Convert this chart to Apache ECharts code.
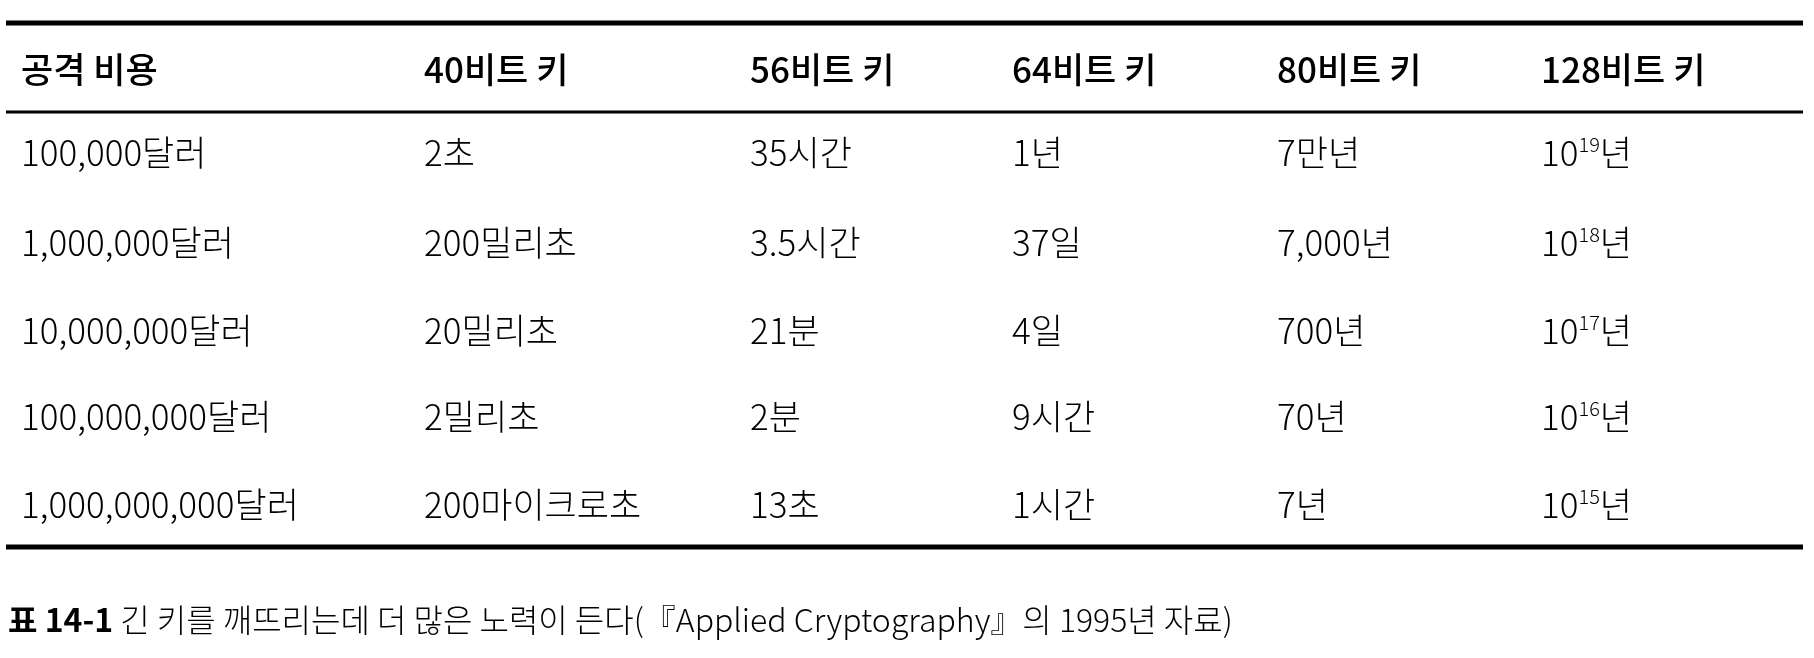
<!DOCTYPE html>
<html>
<head>
<meta charset="utf-8">
<script src="https://cdn.jsdelivr.net/npm/echarts@6/dist/echarts.min.js"></script>
<style>html,body{margin:0;padding:0;background:#fff}#chart{width:1814px;height:658px}</style>
</head>
<body>
<div id="chart"></div>
<script>
// table content
const headers = ['공격 비용', '40비트 키', '56비트 키', '64비트 키', '80비트 키', '128비트 키'];
const costs = ['100,000달러', '1,000,000달러', '10,000,000달러', '100,000,000달러', '1,000,000,000달러'];
const key40 = ['2초', '200밀리초', '20밀리초', '2밀리초', '200마이크로초'];
const key56 = ['35시간', '3.5시간', '21분', '2분', '13초'];
const key64 = ['1년', '37일', '4일', '9시간', '1시간'];
const key80 = ['7만년', '7,000년', '700년', '70년', '7년'];
const key128Exp = [19, 18, 17, 16, 15];
const captionLabel = '표 14-1';
const captionText = ' 긴 키를 깨뜨리는데 더 많은 노력이 든다(『Applied Cryptography』의 1995년 자료)';

const colX = [21, 424, 750, 1012, 1277, 1541];
const headerY = 70;
const rowY = [153, 243, 331, 417, 505];
const FONT = '"Noto Sans CJK KR", "Noto Sans", sans-serif';

const columns = [costs, key40, key56, key64, key80, key128Exp.map(e => '10{sup|' + e + '}년')];

const elements = [];
function hline(y, w) {
  elements.push({ type: 'line', shape: { x1: 6, y1: y, x2: 1803, y2: y }, style: { stroke: '#000', lineWidth: w } });
}
hline(23, 5);
hline(112, 3);
hline(547, 5);

headers.forEach((h, i) => {
  elements.push({ type: 'text', x: colX[i], y: headerY, style: {
    text: h, font: '500 35px ' + FONT, fill: '#000', verticalAlign: 'middle' } });
});

columns.forEach((col, i) => {
  col.forEach((v, r) => {
    elements.push({ type: 'text', x: colX[i], y: rowY[r], style: {
      text: v, fontFamily: FONT, fontSize: 35, fontWeight: 300, fill: '#000', verticalAlign: 'middle',
      rich: { sup: { fontSize: 20, fontFamily: FONT, fontWeight: 300, fill: '#000', padding: [0, 0, 17, 0] } } } });
  });
});

elements.push({ type: 'text', x: 8, y: 620, style: {
  text: '{b|' + captionLabel + '}{n|' + captionText + '}', verticalAlign: 'middle',
  rich: {
    b: { fontFamily: FONT, fontSize: 32, fontWeight: 'bold', fill: '#000' },
    n: { fontFamily: FONT, fontSize: 32, fontWeight: 300, fill: '#000' }
  } } });

const chart = echarts.init(document.getElementById('chart'));
chart.setOption({ backgroundColor: '#fff', animation: false, graphic: { elements } });
</script>
</body>
</html>
